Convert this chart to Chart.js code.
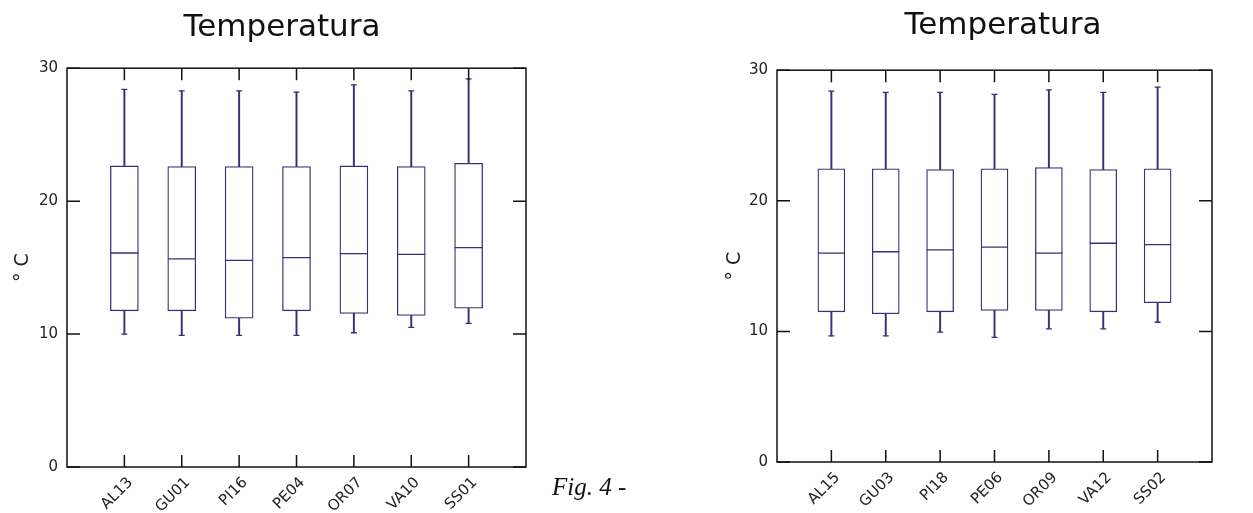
<!DOCTYPE html>
<html>
<head>
<meta charset="utf-8">
<script src="https://cdn.jsdelivr.net/npm/chart.js@4.4.1/dist/chart.umd.min.js"></script>
<style>
  html, body { margin: 0; padding: 0; background: #fff; overflow: hidden; }
  body { width: 1253px; height: 513px; position: relative; }
  .panel { position: absolute; top: 0; height: 513px; }
  #fig { position: absolute; left: 552px; top: 474px; font: italic 25px "Liberation Serif", serif; line-height: 25px; color: #111; white-space: nowrap; }
</style>
</head>
<body>
<div class="panel" style="left:0;width:564px"><canvas id="chartA"></canvas></div>
<div class="panel" style="left:712px;width:582px"><canvas id="chartB"></canvas></div>
<div id="fig">Fig. 4 -</div>
<script>
// left panel stations
const stationsA = ['AL13', 'GU01', 'PI16', 'PE04', 'OR07', 'VA10', 'SS01'];
const minA = [10.0, 9.9, 9.9, 9.9, 10.1, 10.5, 10.8];
const q1A  = [11.75, 11.75, 11.2, 11.75, 11.55, 11.4, 11.95];
const medA = [16.1, 15.65, 15.55, 15.75, 16.05, 16.0, 16.5];
const q3A  = [22.65, 22.6, 22.6, 22.6, 22.65, 22.6, 22.85];
const maxA = [28.4, 28.3, 28.3, 28.2, 28.75, 28.3, 29.2];

// right panel stations
const stationsB = ['AL15', 'GU03', 'PI18', 'PE06', 'OR09', 'VA12', 'SS02'];
const minB = [9.65, 9.65, 9.95, 9.55, 10.2, 10.2, 10.7];
const q1B  = [11.5, 11.35, 11.5, 11.6, 11.6, 11.5, 12.2];
const medB = [16.0, 16.1, 16.25, 16.45, 16.0, 16.75, 16.65];
const q3B  = [22.45, 22.45, 22.4, 22.45, 22.55, 22.4, 22.45];
const maxB = [28.4, 28.3, 28.3, 28.15, 28.5, 28.3, 28.7];

const yTicks = [0, 10, 20, 30];
const titleText = 'Temperatura';
const yLabel = '° C';

const NAVY = '#38307a';
Chart.defaults.font.family = '"DejaVu Sans", sans-serif';

// empty slot on each side so boxes sit at 1..7 of 0..8
function pad(arr) { return [null, ...arr, null]; }

// frame round the plot plus inward tick marks, like the matlab look
const frameTicks = {
  id: 'frameTicks',
  afterDatasetsDraw(chart, args, opts) {
    const {ctx, chartArea: a, scales: {x, y}} = chart;
    ctx.save();
    ctx.strokeStyle = '#111';
    ctx.lineWidth = 1.5;
    ctx.strokeRect(a.left, a.top, a.right - a.left, a.bottom - a.top);
    ctx.beginPath();
    x.ticks.forEach((t, i) => {
      if (!x.getLabelForValue(t.value)) return;
      const px = x.getPixelForTick(i);
      ctx.moveTo(px, a.bottom); ctx.lineTo(px, a.bottom - opts.xLen);
      ctx.moveTo(px, a.top); ctx.lineTo(px, a.top + opts.xLen);
    });
    y.ticks.forEach((t, i) => {
      const py = y.getPixelForTick(i);
      ctx.moveTo(a.left, py); ctx.lineTo(a.left + opts.yLen, py);
      ctx.moveTo(a.right, py); ctx.lineTo(a.right - opts.yLen, py);
    });
    ctx.stroke();
    ctx.restore();
  }
};

function makeChart(id, cats, mn, q1, med, q3, mx, g) {
  const labels = pad(cats);
  return new Chart(document.getElementById(id), {
    type: 'bar',
    data: {
      labels: labels,
      datasets: [
        {
          // whiskers
          type: 'bar', order: 3, grouped: false,
          data: pad(mn.map((v, i) => [v, mx[i]])),
          backgroundColor: NAVY, borderWidth: 0, barThickness: 1.3
        },
        {
          // boxes
          type: 'bar', order: 2, grouped: false,
          data: pad(q1.map((v, i) => [v, q3[i]])),
          backgroundColor: '#fff', borderColor: NAVY, borderWidth: 1.3,
          borderSkipped: false, barThickness: g.boxW
        },
        {
          // medians
          type: 'line', order: 1, showLine: false, data: pad(med),
          pointStyle: 'line', pointRadius: g.boxW / 2, pointHoverRadius: g.boxW / 2,
          pointBorderColor: NAVY, pointBorderWidth: 1.3
        },
        {
          type: 'line', order: 1, showLine: false, data: pad(mx),
          pointStyle: 'line', pointRadius: 3, pointHoverRadius: 3,
          pointBorderColor: NAVY, pointBorderWidth: 1.3
        },
        {
          type: 'line', order: 1, showLine: false, data: pad(mn),
          pointStyle: 'line', pointRadius: 3, pointHoverRadius: 3,
          pointBorderColor: NAVY, pointBorderWidth: 1.3
        }
      ]
    },
    options: {
      responsive: true,
      maintainAspectRatio: false,
      animation: false,
      events: [],
      plugins: {
        legend: { display: false },
        tooltip: { enabled: false },
        title: {
          display: true, text: titleText, color: '#111',
          font: { size: 31, weight: 'normal' },
          padding: { top: g.titleTop, bottom: g.titleBottom }
        },
        frameTicks: { xLen: 12, yLen: 13 }
      },
      scales: {
        x: {
          type: 'category', offset: false,
          grid: { display: false, drawTicks: false }, border: { display: false },
          ticks: {
            autoSkip: false, maxRotation: 45, minRotation: 45,
            font: { size: 15 }, color: '#222', padding: 7, labelOffset: 6
          },
          afterFit: s => { s.height = g.xH; }
        },
        y: {
          type: 'linear', min: 0, max: 30,
          afterBuildTicks: s => { s.ticks = yTicks.map(v => ({ value: v })); },
          grid: { display: false, drawTicks: false }, border: { display: false },
          ticks: { font: { size: 15 }, color: '#222', padding: 9 },
          title: {
            display: true, text: yLabel, color: '#222',
            font: { size: 19 }, padding: { top: 12, bottom: 0 }
          },
          afterFit: s => { s.width = g.yW; }
        },
        // empty right axis, only keeps the margin so the title stays centred on the canvas
        yRight: {
          type: 'linear', position: 'right', min: 0, max: 30,
          grid: { display: false, drawTicks: false }, border: { display: false },
          ticks: { display: false },
          afterFit: s => { s.width = g.padR; }
        }
      }
    },
    plugins: [frameTicks]
  });
}

makeChart('chartA', stationsA, minA, q1A, medA, q3A, maxA,
  { boxW: 28, yW: 67, xH: 46, padR: 38, titleTop: 9, titleBottom: 22 });
makeChart('chartB', stationsB, minB, q1B, medB, q3B, maxB,
  { boxW: 27, yW: 65, xH: 51, padR: 82, titleTop: 7, titleBottom: 26 });
</script>
</body>
</html>
